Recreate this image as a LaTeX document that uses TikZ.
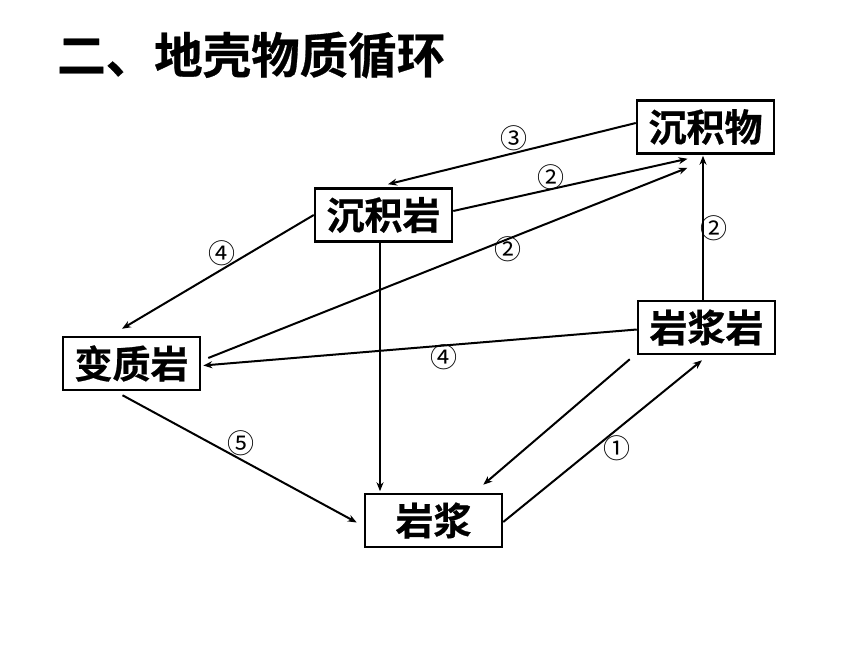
\documentclass[tikz,border=0pt]{standalone}
\usepackage{fontspec}
\newfontfamily\cjkb[FakeBold=0.6]{Noto Sans CJK SC Bold}
\newfontfamily\cjkr{Noto Sans CJK SC}
\usetikzlibrary{arrows.meta,calc}
\begin{document}
\begin{tikzpicture}[x=1pt,y=-1pt,
  box/.style={draw,line width=2.5pt,minimum width=137pt,minimum height=53pt,inner sep=0pt,font=\cjkb\fontsize{38}{38}\selectfont},
  conn/.style={line width=2pt,-{Stealth[length=9pt,width=7pt]}},
  lbl/.style={font=\cjkr\fontsize{27}{27}\selectfont,inner sep=0pt,anchor=center}]
\useasboundingbox (0,0) rectangle (860,645);
\node[anchor=west,inner sep=0pt,font=\cjkb\fontsize{48.5}{48.5}\selectfont] (title) at (57,55) {二、地壳物质循环};
\node[box] (cjw) at (705.5,127) {沉积物};
\node[box] (cjy) at (383.5,215) {沉积岩};
\node[box] (bzy) at (131.5,363.5) {变质岩};
\node[box] (yjy) at (706.5,327.5) {岩浆岩};
\node[box] (yj)  at (433.5,520.5) {岩浆};
% 3: sediment -> sedimentary rock
\draw[conn] ([yshift=4pt]cjw.west) -- ([xshift=4.5pt,yshift=3pt]cjy.north) node[lbl,pos=0.5,xshift=2pt,yshift=15.5pt] (l3) {③};
% 2 upper: sedimentary rock -> sediment
\draw[conn] ([yshift=4pt]cjy.east) -- ([xshift=-18pt,yshift=-4pt]cjw.south) node[lbl,pos=0.42,xshift=-1pt,yshift=12pt] (l2a) {②};
% 2 lower: metamorphic -> sediment
\draw[conn] ([xshift=7pt,yshift=5.5pt]bzy.east) -- ([xshift=-18pt,yshift=-13pt]cjw.south) node[lbl,pos=0.625,yshift=-10pt] (l2b) {②};
% 2 vertical: igneous -> sediment
\draw[conn] ([xshift=-3.5pt]yjy.north) -- ([xshift=-3.5pt,yshift=-1pt]yjy.north |- cjw.south) node[lbl,pos=0.5,xshift=11pt] (l2c) {②};
% 4 upper: sedimentary -> metamorphic
\draw[conn] (cjy.west) -- ([xshift=-9.5pt,yshift=7pt]bzy.north) node[lbl,pos=0.478,yshift=16.5pt] (l4a) {④};
% sedimentary -> magma
\draw[conn] ([xshift=-3.5pt]cjy.south) -- ([xshift=-3.5pt,yshift=1.5pt]cjy.south |- yj.north);
% 4: igneous -> metamorphic
\draw[conn] ([yshift=-2pt]yjy.west) -- ([xshift=2pt,yshift=-2pt]bzy.east) node[lbl,pos=0.4455,yshift=-11.5pt] (l4b) {④};
% 5: metamorphic -> magma
\draw[conn] ([xshift=-9pt,yshift=-4pt]bzy.south) -- ([xshift=-7pt,yshift=-2pt]yj.west) node[lbl,pos=0.507,yshift=17pt] (l5) {⑤};
% igneous -> magma
\draw[conn] ([xshift=-7pt,yshift=-4pt]yjy.south west) -- ([xshift=-20pt,yshift=8pt]yj.north east);
% 1: magma -> igneous
\draw[conn] ([yshift=-1.5pt]yj.east) -- ([xshift=-4.5pt,yshift=-5pt]yjy.south) node[lbl,pos=0.573,yshift=-19pt] (l1) {①};
\end{tikzpicture}
\end{document}
